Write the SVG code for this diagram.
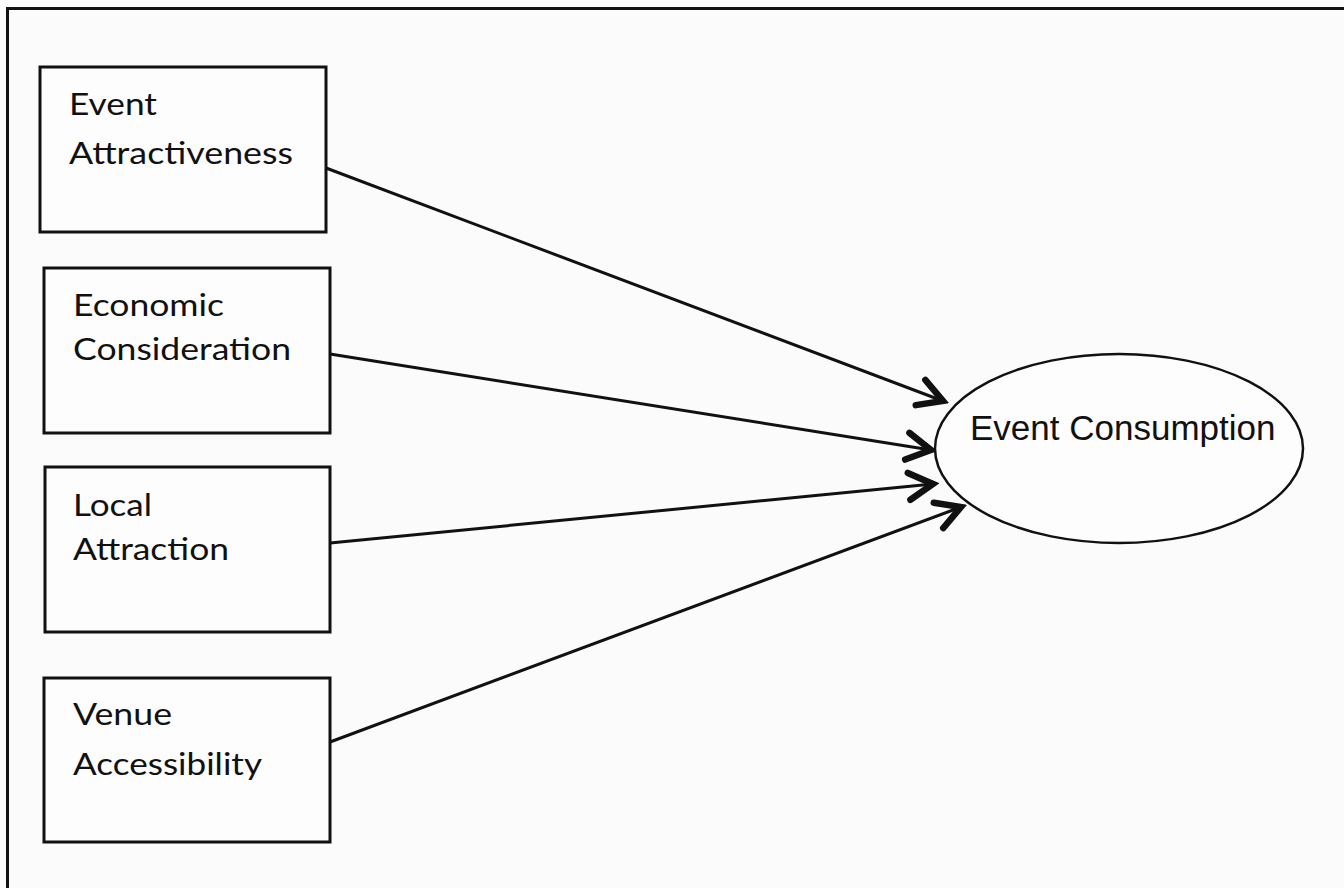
<svg xmlns="http://www.w3.org/2000/svg" width="1344" height="888" viewBox="0 0 1344 888">
  <style>
    .box { fill: #fdfdfd; stroke: #111; stroke-width: 3; }
    .lbl { font-family: Lato, "Open Sans", "Liberation Sans", sans-serif; font-size: 30px; fill: #111; }
    .ell { fill: #fdfdfd; stroke: #111; stroke-width: 2.5; }
    .elbl { font-family: "Liberation Sans", Arial, sans-serif; font-size: 35px; fill: #111; }
    .conn { stroke: #111; stroke-width: 3; fill: none; marker-end: url(#chev); }
  </style>
  <defs>
    <marker id="chev" viewBox="-32 -20 38 40" refX="0" refY="0" markerWidth="38" markerHeight="40" markerUnits="userSpaceOnUse" orient="auto">
      <path d="M-24,-13.5 L0,0 L-24,13.5" fill="none" stroke="#111" stroke-width="6.5" stroke-linecap="round" stroke-linejoin="miter"/>
    </marker>
  </defs>
  <rect x="0" y="0" width="1344" height="888" fill="#fbfbfb"/>
  <rect id="frame" x="7.5" y="8.5" width="1345" height="890" fill="none" stroke="#111" stroke-width="3"/>

  <g id="connectors">
    <line class="conn" x1="326" y1="168" x2="943" y2="401"/>
    <line class="conn" x1="330" y1="354" x2="931" y2="450"/>
    <line class="conn" x1="330" y1="543" x2="933" y2="484"/>
    <line class="conn" x1="330" y1="742" x2="961" y2="507"/>
  </g>

  <g id="event-attractiveness">
    <rect class="box" x="40" y="67" width="286" height="165"/>
    <text class="lbl" x="69" y="115" textLength="88" lengthAdjust="spacingAndGlyphs">Event</text>
    <text class="lbl" x="69" y="164" textLength="224" lengthAdjust="spacingAndGlyphs">Attractiveness</text>
  </g>
  <g id="economic-consideration">
    <rect class="box" x="44" y="268" width="286" height="165"/>
    <text class="lbl" x="73" y="316" textLength="151" lengthAdjust="spacingAndGlyphs">Economic</text>
    <text class="lbl" x="73" y="360" textLength="218" lengthAdjust="spacingAndGlyphs">Consideration</text>
  </g>
  <g id="local-attraction">
    <rect class="box" x="45" y="467" width="285" height="165"/>
    <text class="lbl" x="73" y="516" textLength="79" lengthAdjust="spacingAndGlyphs">Local</text>
    <text class="lbl" x="73" y="560" textLength="156" lengthAdjust="spacingAndGlyphs">Attraction</text>
  </g>
  <g id="venue-accessibility">
    <rect class="box" x="44" y="678" width="286" height="164"/>
    <text class="lbl" x="73" y="725" textLength="99" lengthAdjust="spacingAndGlyphs">Venue</text>
    <text class="lbl" x="73" y="775" textLength="189" lengthAdjust="spacingAndGlyphs">Accessibility</text>
  </g>
  <g id="event-consumption">
    <ellipse class="ell" cx="1119" cy="448.5" rx="184" ry="94.5"/>
    <text class="elbl" x="970" y="440">Event Consumption</text>
  </g>
</svg>
